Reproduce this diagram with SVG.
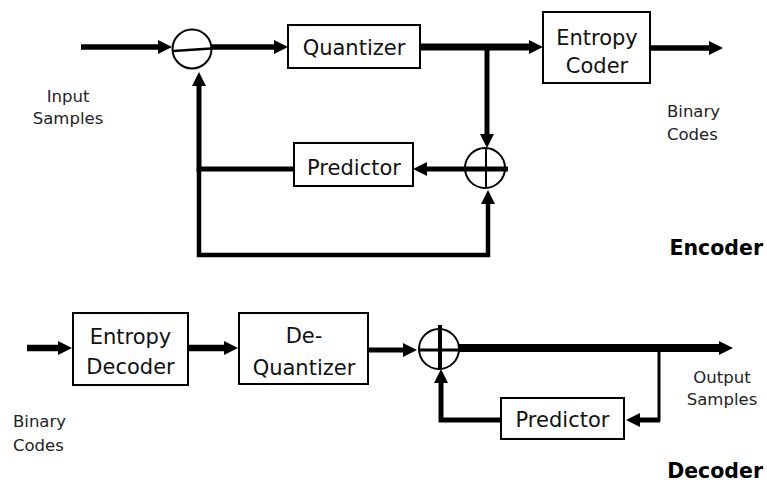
<svg xmlns="http://www.w3.org/2000/svg" width="767" height="484" viewBox="0 0 767 484">
<style>
.box{fill:#fff;stroke:#000;stroke-width:2}
.sum{fill:none;stroke:#000;stroke-width:2}
.t{font-family:"DejaVu Sans",sans-serif;font-size:21px;fill:#111;text-anchor:middle}
.l{font-family:"DejaVu Sans",sans-serif;font-size:16.5px;fill:#222}
.h{font-family:"DejaVu Sans",sans-serif;font-size:20.5px;font-weight:bold;fill:#000;text-anchor:end}
.w{fill:none;stroke:#000;stroke-linejoin:miter}
</style>
<defs>
<marker id="ah" markerUnits="userSpaceOnUse" markerWidth="14" markerHeight="14" refX="2" refY="7" orient="auto">
<path d="M0,0 L14,7 L0,14 z" fill="#000"/>
</marker>
</defs>
<g id="connectors">
<path class="w" stroke-width="5.5" d="M81,47 H160" marker-end="url(#ah)"/>
<path class="w" stroke-width="5.5" d="M212,47 H276" marker-end="url(#ah)"/>
<path class="w" stroke-width="7" d="M420,47 H531" marker-end="url(#ah)"/>
<path class="w" stroke-width="5" d="M487,47 V136" marker-end="url(#ah)"/>
<path class="w" stroke-width="5" d="M508,169 H425" marker-end="url(#ah)"/>
<path class="w" stroke-width="5" d="M294,169 H199 V84" marker-end="url(#ah)"/>
<path class="w" stroke-width="4.5" d="M199,168 V255 H488 V202" marker-end="url(#ah)"/>
<path class="w" stroke-width="5.5" d="M650,48 H711" marker-end="url(#ah)"/>
<path class="w" stroke-width="6.5" d="M27,348 H60" marker-end="url(#ah)"/>
<path class="w" stroke-width="6.5" d="M188,348 H226" marker-end="url(#ah)"/>
<path class="w" stroke-width="5" d="M368,350 H405" marker-end="url(#ah)"/>
<path class="w" stroke-width="8" d="M459,348 H721" marker-end="url(#ah)"/>
<path class="w" stroke-width="3" d="M659,348 V421"/>
<path class="w" stroke-width="5" d="M660,420 H638" marker-end="url(#ah)"/>
<path class="w" stroke-width="5" d="M501,420 H441 V381" marker-end="url(#ah)"/>
</g>
<g id="sub-enc">
<circle class="sum" cx="192" cy="49" r="19.5"/>
<line x1="173" y1="51" x2="211" y2="48.5" stroke="#000" stroke-width="2.5"/>
</g>
<g id="add-enc">
<circle class="sum" cx="485" cy="168" r="20"/>
<line x1="486" y1="148" x2="486" y2="188" stroke="#000" stroke-width="2"/>
</g>
<g id="add-dec">
<circle class="sum" cx="439" cy="349" r="20"/>
<line x1="440" y1="325" x2="440" y2="369" stroke="#000" stroke-width="4"/>
<line x1="419" y1="350" x2="459" y2="350" stroke="#000" stroke-width="3"/>
</g>
<g id="quantizer">
<rect class="box" x="288" y="25" width="132" height="43"/>
<text class="t" x="354" y="55">Quantizer</text>
</g>
<g id="entropy-coder">
<rect class="box" x="543" y="12" width="107" height="71"/>
<text class="t" x="597" y="45">Entropy</text>
<text class="t" x="597" y="73">Coder</text>
</g>
<g id="predictor-enc">
<rect class="box" x="294" y="143" width="119" height="43"/>
<text class="t" x="354" y="175">Predictor</text>
</g>
<g id="entropy-decoder">
<rect class="box" x="73" y="313" width="115" height="72"/>
<text class="t" x="130.5" y="344">Entropy</text>
<text class="t" x="130.5" y="374">Decoder</text>
</g>
<g id="dequantizer">
<rect class="box" x="239" y="313" width="129" height="71"/>
<text class="t" x="304" y="343">De-</text>
<text class="t" x="304" y="375">Quantizer</text>
</g>
<g id="predictor-dec">
<rect class="box" x="501" y="398" width="123" height="41"/>
<text class="t" x="562.5" y="427">Predictor</text>
</g>
<g id="labels">
<text class="l" x="68" y="102" text-anchor="middle">Input</text>
<text class="l" x="68" y="124" text-anchor="middle">Samples</text>
<text class="l" x="667" y="117">Binary</text>
<text class="l" x="667" y="140">Codes</text>
<text class="l" x="722" y="383" text-anchor="middle">Output</text>
<text class="l" x="722" y="405" text-anchor="middle">Samples</text>
<text class="l" x="13" y="427">Binary</text>
<text class="l" x="13" y="451">Codes</text>
<text class="h" x="763" y="255">Encoder</text>
<text class="h" x="763" y="478">Decoder</text>
</g>
</svg>
